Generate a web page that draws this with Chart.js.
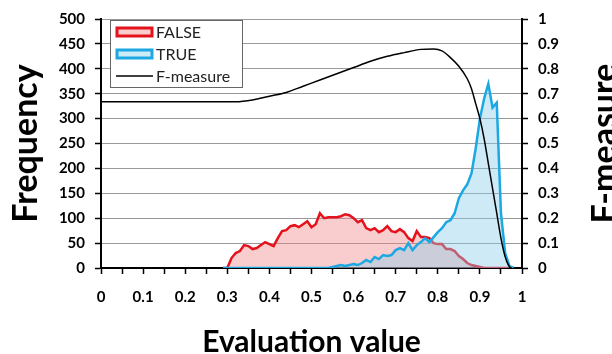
<!DOCTYPE html>
<html>
<head>
<meta charset="utf-8">
<script src="https://cdn.jsdelivr.net/npm/chart.js@4.4.0/dist/chart.umd.min.js"></script>
<style>
  html, body { margin: 0; padding: 0; background: #fff; overflow: hidden; }
  #wrap { width: 612px; height: 354px; overflow: hidden; }
  canvas { display: block; }
</style>
</head>
<body>
<div id="wrap"><canvas id="histChart" width="630" height="354"></canvas></div>
<script>
// Histogram bins (evaluation value)
const binValues = [
    0.29, 0.30, 0.31, 0.32, 0.33, 0.34, 0.35, 0.36, 0.37, 0.38,
    0.39, 0.40, 0.41, 0.42, 0.43, 0.44, 0.45, 0.46, 0.47, 0.48,
    0.49, 0.50, 0.51, 0.52, 0.53, 0.54, 0.55, 0.56, 0.57, 0.58,
    0.59, 0.60, 0.61, 0.62, 0.63, 0.64, 0.65, 0.66, 0.67, 0.68,
    0.69, 0.70, 0.71, 0.72, 0.73, 0.74, 0.75, 0.76, 0.77, 0.78,
    0.79, 0.80, 0.81, 0.82, 0.83, 0.84, 0.85, 0.86, 0.87, 0.88,
    0.89, 0.90, 0.91, 0.92, 0.93, 0.94, 0.95, 0.96, 0.97, 0.98
];

// Frequency of FALSE cases per bin
const falseCounts = [
    0, 0, 20, 30, 34, 46, 44, 38, 40, 46,
    52, 48, 44, 60, 74, 76, 84, 86, 82, 88,
    94, 82, 88, 110, 100, 102, 102, 102, 104, 108,
    106, 100, 92, 96, 80, 76, 80, 72, 76, 84,
    74, 72, 78, 72, 60, 54, 74, 62, 62, 60,
    50, 48, 48, 38, 38, 34, 24, 18, 10, 6,
    4, 2, 0, 0, 0, 0, 0, 0, 0, 0
];

// Frequency of TRUE cases per bin
const trueCounts = [
    0, 0, 0, 0, 0, 0, 0, 0, 0, 0,
    0, 0, 0, 0, 0, 0, 0, 0, 0, 0,
    0, 0, 0, 0, 0, 0, 2, 4, 6, 4,
    6, 8, 6, 10, 16, 12, 22, 18, 26, 24,
    26, 36, 40, 36, 50, 36, 46, 52, 60, 52,
    62, 72, 80, 92, 96, 110, 140, 156, 168, 190,
    240, 300, 340, 370, 322, 332, 110, 30, 4, 0
];

// F-measure curve (right axis)
const fmX = [0, 0.32, 0.36, 0.40, 0.44, 0.48, 0.52, 0.56, 0.60, 0.64, 0.68, 0.72, 0.76, 0.79,
             0.81, 0.83, 0.85, 0.87, 0.88, 0.89, 0.90, 0.91, 0.92, 0.93, 0.94, 0.95, 0.96, 0.97, 0.975];
const fmY = [0.668, 0.668, 0.675, 0.69, 0.705, 0.73, 0.755, 0.78, 0.805, 0.83, 0.85, 0.865, 0.878, 0.88,
             0.872, 0.845, 0.81, 0.76, 0.72, 0.66, 0.60, 0.52, 0.42, 0.32, 0.22, 0.12, 0.045, 0.005, 0];

// Axis ticks
const xTickValues = [0, 0.05, 0.1, 0.15, 0.2, 0.25, 0.3, 0.35, 0.4, 0.45, 0.5,
                     0.55, 0.6, 0.65, 0.7, 0.75, 0.8, 0.85, 0.9, 0.95, 1];
const xTickLabels = ['0', '', '0.1', '', '0.2', '', '0.3', '', '0.4', '', '0.5',
                     '', '0.6', '', '0.7', '', '0.8', '', '0.9', '', '1'];
const fTickLabels = ['0', '0.1', '0.2', '0.3', '0.4', '0.5', '0.6', '0.7', '0.8', '0.9', '1'];

const tickFont = { family: 'Lato', size: 15, weight: 'bold' };
const titleFont = { family: 'Lato', size: 30, weight: 'bold', lineHeight: 1 };
const sideTitleFont = { family: 'Lato', size: 34, weight: 'bold', lineHeight: 1 };

function toPoints(xs, ys) {
    return xs.map((x, i) => ({ x: x, y: ys[i] }));
}

// Legend box and right axis title drawn on the canvas
const overlayPlugin = {
    id: 'overlay',
    afterDraw(chart) {
        const c = chart.ctx;
        const ds = chart.data.datasets;

        c.save();
        c.fillStyle = '#fff';
        c.strokeStyle = '#666';
        c.lineWidth = 1;
        c.fillRect(110.5, 20.5, 132, 67);
        c.strokeRect(110.5, 20.5, 132, 67);

        c.font = '16px Lato';
        c.textBaseline = 'middle';
        const rows = [32, 54, 76];
        ds.forEach((d, i) => {
            const y = rows[i];
            if (i < 2) {
                c.fillStyle = d.legendFill;
                c.fillRect(117, y - 4, 35, 8);
                c.strokeStyle = d.borderColor;
                c.lineWidth = 3;
                c.strokeRect(117, y - 4, 35, 8);
            } else {
                c.strokeStyle = d.borderColor;
                c.lineWidth = 1.5;
                c.beginPath();
                c.moveTo(116, y);
                c.lineTo(153, y);
                c.stroke();
            }
            c.fillStyle = '#222';
            c.fillText(d.label, 156, y + 1);
        });

        // right axis title, reading bottom to top
        const area = chart.chartArea;
        c.translate(605, (area.top + area.bottom) / 2);
        c.rotate(-Math.PI / 2);
        c.font = 'bold 34px Lato';
        c.textAlign = 'center';
        c.fillStyle = '#000';
        c.fillText('F-measure', 0, 0);
        c.restore();
    }
};

const ctx = document.getElementById('histChart');

const chart = new Chart(ctx, {
    type: 'line',
    data: {
        datasets: [{
            label: 'FALSE',
            data: toPoints(binValues, falseCounts),
            borderColor: 'rgb(228, 18, 28)',
            backgroundColor: 'rgba(240, 130, 130, 0.4)',
            legendFill: '#f9cdcd',
            borderWidth: 2.5,
            pointRadius: 0,
            tension: 0,
            fill: 'origin',
            yAxisID: 'y',
            order: 2
        }, {
            label: 'TRUE',
            data: toPoints(binValues, trueCounts),
            borderColor: 'rgb(28, 168, 226)',
            backgroundColor: 'rgba(140, 205, 235, 0.42)',
            legendFill: '#cdebf7',
            borderWidth: 2.5,
            pointRadius: 0,
            tension: 0,
            fill: 'origin',
            yAxisID: 'y',
            order: 1
        }, {
            label: 'F-measure',
            data: toPoints(fmX, fmY),
            borderColor: '#000',
            borderWidth: 1.5,
            pointRadius: 0,
            cubicInterpolationMode: 'monotone',
            fill: false,
            yAxisID: 'y1',
            order: 0
        }]
    },
    options: {
        responsive: false,
        animation: false,
        layout: { padding: { top: 19, left: 0, right: 0, bottom: 0 } },
        plugins: {
            legend: { display: false },
            tooltip: { enabled: false }
        },
        scales: {
            x: {
                type: 'linear',
                min: 0,
                max: 1,
                afterBuildTicks: scale => {
                    scale.ticks = xTickValues.map(v => ({ value: v }));
                },
                afterFit: scale => { scale.height = 86; },
                grid: { drawOnChartArea: false, tickLength: 6, tickColor: '#000', tickWidth: 1.5 },
                border: { color: '#000', width: 2 },
                ticks: {
                    font: tickFont,
                    color: '#000',
                    padding: 14,
                    maxRotation: 0,
                    autoSkip: false,
                    callback: (value, index) => xTickLabels[index]
                },
                title: {
                    display: true,
                    text: 'Evaluation value',
                    font: titleFont,
                    color: '#000',
                    padding: { top: 0, bottom: -3 }
                }
            },
            y: {
                position: 'left',
                min: 0,
                max: 500,
                afterFit: scale => { scale.width = 101; },
                grid: { color: '#999', lineWidth: 1, tickLength: 6, tickColor: '#000', tickWidth: 1.5 },
                border: { color: '#000', width: 2 },
                ticks: { stepSize: 50, font: tickFont, color: '#000', padding: 10 },
                title: {
                    display: true,
                    text: 'Frequency',
                    font: sideTitleFont,
                    color: '#000',
                    padding: { top: 9, bottom: 0 }
                }
            },
            y1: {
                position: 'right',
                min: 0,
                max: 1,
                afterBuildTicks: scale => {
                    scale.ticks = fTickLabels.map(t => ({ value: parseFloat(t) }));
                },
                afterFit: scale => { scale.width = 108; },
                grid: { drawOnChartArea: false, tickLength: 6, tickColor: '#000', tickWidth: 1.5 },
                border: { color: '#000', width: 2 },
                ticks: {
                    font: tickFont,
                    color: '#000',
                    padding: 10,
                    callback: (value, index) => fTickLabels[index]
                }
            }
        }
    },
    plugins: [overlayPlugin]
});
</script>
</body>
</html>
